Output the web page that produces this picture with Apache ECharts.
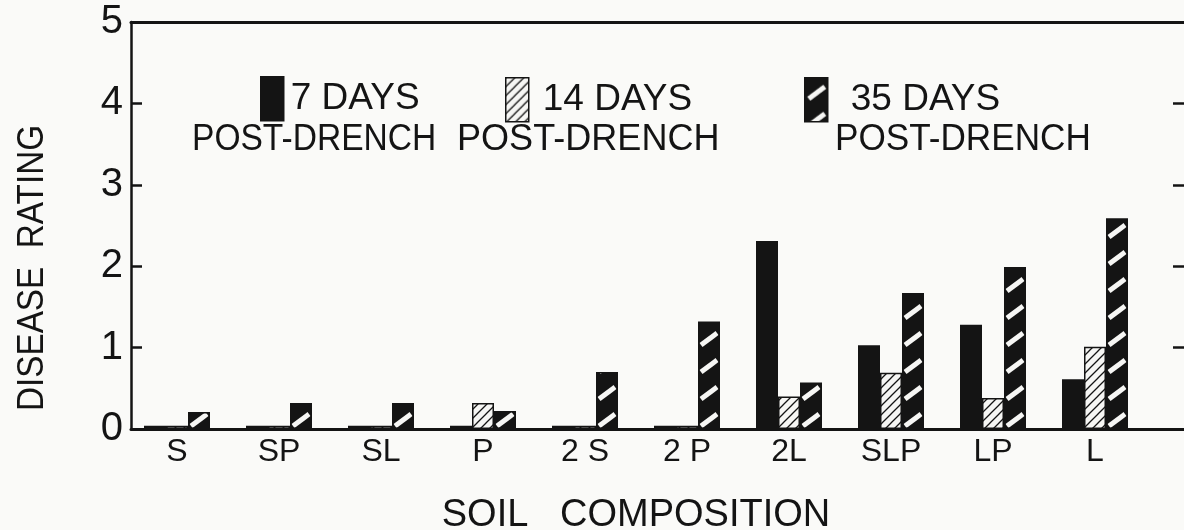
<!DOCTYPE html>
<html lang="en">
<head>
  <meta charset="UTF-8">
  <title>disease rating</title>
  <script src="https://cdn.jsdelivr.net/npm/echarts@6/dist/echarts.min.js"></script>
  <style>
    *{margin:0;padding:0;}
    body{width:1184px;height:530px;background:#fafaf8;}
    #chart{width:1184px;height:530px;}
  </style>
</head>
<body>
  <div id="chart"></div>
  <script>
    // soil mixes on the x axis
    var soils = ['S', 'SP', 'SL', 'P', '2 S', '2 P', '2L', 'SLP', 'LP', 'L']
    // disease rating
    var days7 = [0.04, 0.04, 0.04, 0.04, 0.04, 0.04, 2.31, 1.03, 1.28, 0.61]
    var days14 = [0.04, 0.04, 0.04, 0.32, 0.04, 0.04, 0.40, 0.69, 0.38, 1.01]
    var days35 = [0.21, 0.32, 0.32, 0.22, 0.70, 1.32, 0.57, 1.67, 1.99, 2.59]
    var ratingTicks = [0, 1, 2, 3, 4, 5]

    var FONT = '"Liberation Sans", sans-serif'
    var INK = '#141414'

    // hatch for 14 days: thin diagonal lines on white
    function hatchTile() {
      var c = document.createElement('canvas')
      c.width = 9; c.height = 9
      var g = c.getContext('2d')
      g.fillStyle = '#f6f6f4'
      g.fillRect(0, 0, 9, 9)
      g.strokeStyle = INK
      g.lineWidth = 1.3
      g.beginPath()
      g.moveTo(-1, 10); g.lineTo(10, -1)
      g.moveTo(-2, 2); g.lineTo(2, -2)
      g.moveTo(7, 11); g.lineTo(11, 7)
      g.stroke()
      return c
    }

    // black with white slashes for 35 days; width = category band so every bar gets one slash
    function slashTile(w, x0) {
      var c = document.createElement('canvas')
      c.width = w; c.height = 27
      var g = c.getContext('2d')
      g.fillStyle = INK
      g.fillRect(0, 0, w, 27)
      g.strokeStyle = '#f6f6f4'
      g.lineWidth = 5
      ;[x0, x0 - w].forEach(function (x) {
        g.beginPath()
        g.moveTo(x + 3, 21)
        g.lineTo(x + 19, 9)
        g.stroke()
      })
      return c
    }

    var hatch = { image: hatchTile(), repeat: 'repeat' }
    var slash = { image: slashTile(102, 86), repeat: 'repeat' }
    var slashIcon = { image: slashTile(24, 1), repeat: 'repeat' }

    var chart = echarts.init(document.getElementById('chart'))

    function legendAt(left, top, name, gap, color) {
      return {
        left: left, top: top, orient: 'horizontal',
        itemWidth: 23, itemHeight: 44, itemGap: 0,
        icon: 'rect',
        selectedMode: false,
        data: [{ name: name, itemStyle: { color: color, borderColor: INK, borderWidth: 1.5 } }],
        textStyle: { fontFamily: FONT, fontSize: 37, color: INK, padding: [0, 0, 0, gap] }
      }
    }

    function condensed(x, y, sx, text) {
      return {
        type: 'text', x: x, y: y, scaleX: sx,
        style: { text: text, font: '37px ' + FONT, fill: INK, align: 'left', verticalAlign: 'top' }
      }
    }

    var frameLine = { show: true, onZero: false, lineStyle: { color: INK, width: 3 } }

    var option = {
      animation: false,
      backgroundColor: '#fafaf8',
      grid: [
        { left: 131, right: -2, top: 22, bottom: 101, outerBoundsMode: 'none' },
        { left: 126, width: 1020, top: 22, bottom: 101, outerBoundsMode: 'none' }
      ],
      legend: [
        legendAt(255, 71, '7 DAYS', 2, INK),
        legendAt(500, 72, '14 DAYS', 9, hatch),
        legendAt(799, 72, '35 DAYS', 18, slashIcon)
      ],
      graphic: [
        condensed(192, 121, 0.907, 'POST-DRENCH'),
        condensed(457, 121, 0.975, 'POST-DRENCH'),
        condensed(835, 121, 0.95, 'POST-DRENCH'),
        {
          type: 'text', x: 33, y: 268, rotation: Math.PI / 2, scaleX: 0.9,
          style: { text: 'DISEASE  RATING', font: '37px ' + FONT, fill: INK, align: 'center', verticalAlign: 'middle' }
        }
      ],
      xAxis: [
        {
          gridIndex: 0, type: 'value', min: 0, max: 1, position: 'bottom',
          axisLine: frameLine,
          axisTick: { show: false }, axisLabel: { show: false }, splitLine: { show: false }
        },
        {
          gridIndex: 0, type: 'value', min: 0, max: 1, position: 'top',
          axisLine: frameLine,
          axisTick: { show: false }, axisLabel: { show: false }, splitLine: { show: false }
        },
        {
          gridIndex: 1, type: 'category', data: soils,
          axisLine: { show: false }, axisTick: { show: false },
          axisLabel: { fontFamily: FONT, fontSize: 32, color: INK, margin: 7 },
          name: 'SOIL   COMPOSITION', nameLocation: 'middle', nameGap: 68,
          nameTextStyle: { fontFamily: FONT, fontSize: 38, color: INK }
        }
      ],
      yAxis: [
        {
          gridIndex: 0, type: 'value', min: ratingTicks[0], max: ratingTicks[ratingTicks.length - 1], interval: 1,
          position: 'left',
          axisLine: { show: true, onZero: false, lineStyle: { color: INK, width: 2.5 } },
          axisTick: { show: true, inside: true, length: 11, lineStyle: { color: INK, width: 2.5 } },
          axisLabel: { fontFamily: FONT, fontSize: 40, color: INK, margin: 8 },
          splitLine: { show: false }
        },
        {
          gridIndex: 0, type: 'value', min: 0, max: 5, interval: 1, position: 'right',
          axisLine: { show: true, onZero: false, lineStyle: { color: INK, width: 2.5 } },
          axisTick: { show: true, inside: true, length: 13, lineStyle: { color: INK, width: 2.5 } },
          axisLabel: { show: false }, splitLine: { show: false }
        },
        { gridIndex: 1, type: 'value', min: 0, max: 5, show: false }
      ],
      series: [
        {
          name: '7 DAYS', type: 'bar', xAxisIndex: 2, yAxisIndex: 2, data: days7,
          barWidth: 22, barGap: '0%',
          itemStyle: { color: INK, borderColor: INK, borderWidth: 1.5 }
        },
        {
          name: '14 DAYS', type: 'bar', xAxisIndex: 2, yAxisIndex: 2, data: days14,
          barWidth: 22, barGap: '0%',
          itemStyle: { color: hatch, borderColor: INK, borderWidth: 1.5 }
        },
        {
          name: '35 DAYS', type: 'bar', xAxisIndex: 2, yAxisIndex: 2, data: days35,
          barWidth: 22, barGap: '0%',
          itemStyle: { color: slash, borderColor: INK, borderWidth: 1.5 }
        }
      ]
    }
    chart.setOption(option)
    window.onresize = chart.resize
  </script>
</body>
</html>
